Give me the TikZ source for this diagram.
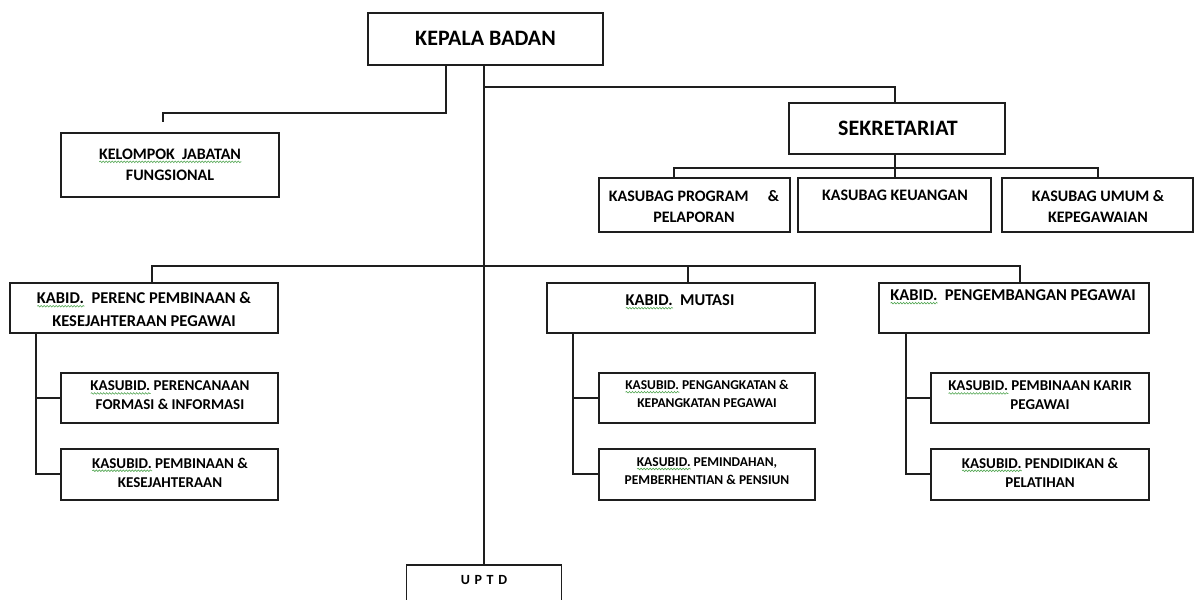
\documentclass[tikz,border=0pt]{standalone}
\usepackage{fontspec}
\setmainfont{Carlito}
\usetikzlibrary{decorations.pathmorphing}
\definecolor{sqc}{RGB}{80,165,80}
\definecolor{lnc}{RGB}{30,30,30}
\newsavebox\sqbox
\newlength\sqlen
\newcommand\sqw[1]{\sbox\sqbox{#1}\setlength\sqlen{\wd\sqbox}\rlap{\tikz[x=1pt,y=1pt,baseline=0pt]\draw[sqc,line width=0.6pt,decorate,decoration={snake,amplitude=0.8pt,segment length=3pt}] (0,-2.6) -- (\sqlen,-2.6);}\usebox\sqbox}
\begin{document}
\begin{tikzpicture}[x=1pt,y=-1pt,
  box/.style={draw=lnc,line width=1.1pt,outer sep=0pt,inner sep=0pt,rectangle},
  ln/.style={draw=lnc,line width=1.1pt},
  txt/.style={inner sep=0pt,align=center,font=\bfseries}]
\useasboundingbox (0,0) rectangle (1195,600);
\fill[white] (0,0) rectangle (1195,600);
% boxes
\node[box,minimum width=235pt,minimum height=52pt] (kb) at (485.5,39) {};
\node[box,minimum width=218pt,minimum height=64pt] (kjf) at (170,165) {};
\node[box,minimum width=216pt,minimum height=51pt] (sek) at (897,128.5) {};
\node[box,minimum width=191pt,minimum height=54pt] (sb1) at (694.5,205) {};
\node[box,minimum width=193pt,minimum height=54pt] (sb2) at (894.5,205) {};
\node[box,minimum width=191pt,minimum height=54pt] (sb3) at (1097.5,205) {};
\node[box,minimum width=268pt,minimum height=50pt] (kab1) at (144,308) {};
\node[box,minimum width=268pt,minimum height=50pt] (kab2) at (681,308) {};
\node[box,minimum width=270pt,minimum height=50pt] (kab3) at (1014,308) {};
\node[box,minimum width=217pt,minimum height=50pt] (s11) at (169.5,398) {};
\node[box,minimum width=217pt,minimum height=51pt] (s12) at (169.5,474.5) {};
\node[box,minimum width=216pt,minimum height=50pt] (s21) at (707,398) {};
\node[box,minimum width=216pt,minimum height=51pt] (s22) at (707,474.5) {};
\node[box,minimum width=218pt,minimum height=50pt] (s31) at (1040,398) {};
\node[box,minimum width=218pt,minimum height=51pt] (s32) at (1040,474.5) {};
\node[box,minimum width=155pt,minimum height=50pt] (uptd) at (484,590) {};
% texts
\node[txt,font=\bfseries\fontsize{22}{26}\selectfont] (tkb) at (485.5,38) {KEPALA BADAN};
\node[txt,font=\bfseries\fontsize{22}{26}\selectfont] (tsek) at (898,128) {SEKRETARIAT};
\node[txt,font=\bfseries\fontsize{16}{21}\selectfont] (tkjf) at (170,164.5) {\sqw{KELOMPOK\ \ JABATAN}\\FUNGSIONAL};
\node[txt,font=\bfseries\fontsize{16}{21}\selectfont] (tsb1) at (694,206.5) {KASUBAG PROGRAM\hspace{1.2em}\&\\PELAPORAN};
\node[txt,font=\bfseries\fontsize{16}{21}\selectfont] (tsb2) at (895,195) {KASUBAG KEUANGAN};
\node[txt,font=\bfseries\fontsize{16}{21}\selectfont] (tsb3) at (1098,206.5) {KASUBAG UMUM \&\\KEPEGAWAIAN};
\node[txt,font=\bfseries\fontsize{16.5}{23}\selectfont] (tkab1) at (144,309.5) {\sqw{KABID.}\ \ PERENC PEMBINAAN \&\\KESEJAHTERAAN PEGAWAI};
\node[txt,font=\bfseries\fontsize{16.5}{23}\selectfont] (tkab2) at (680,302) {\sqw{KABID.}\ \ MUTASI};
\node[txt,font=\bfseries\fontsize{16.5}{23}\selectfont] (tkab3) at (1013,297) {\sqw{KABID.}\ \ PENGEMBANGAN PEGAWAI};
\node[txt,font=\bfseries\fontsize{15}{19}\selectfont] (ts11) at (170,395.5) {\sqw{KASUBID.} PERENCANAAN\\FORMASI \& INFORMASI};
\node[txt,font=\bfseries\fontsize{15}{19}\selectfont] (ts12) at (170,472.5) {\sqw{KASUBID.} PEMBINAAN \&\\KESEJAHTERAAN};
\node[txt,font=\bfseries\fontsize{13.5}{18}\selectfont] (ts21) at (707,394) {\sqw{KASUBID.} PENGANGKATAN \&\\KEPANGKATAN PEGAWAI};
\node[txt,font=\bfseries\fontsize{13.5}{18}\selectfont] (ts22) at (707,471) {\sqw{KASUBID.} PEMINDAHAN,\\PEMBERHENTIAN \& PENSIUN};
\node[txt,font=\bfseries\fontsize{15}{19}\selectfont] (ts31) at (1040,395.5) {\sqw{KASUBID.} PEMBINAAN KARIR\\PEGAWAI};
\node[txt,font=\bfseries\fontsize{15}{19}\selectfont] (ts32) at (1040,472.5) {\sqw{KASUBID.} PENDIDIKAN \&\\PELATIHAN};
\node[txt,font=\bfseries\fontsize{14}{18}\selectfont] (tuptd) at (484,580) {U\,\,P\,\,T\,\,D};
% connector coordinates
\coordinate (fa) at (446,113);
\coordinate (fb) at (163,113);
\coordinate (fc) at (163,122);
\coordinate (ta) at (484,87);
\coordinate (tb) at (895,87);
\coordinate (sa) at (895,168);
\coordinate (sl) at (674,168);
\coordinate (sr) at (1098,168);
\coordinate (ka) at (484,266);
\coordinate (kl) at (152,266);
\coordinate (km) at (688,266);
\coordinate (kr) at (1020,266);
\coordinate (l1) at (36,398);
\coordinate (l2) at (36,474);
\coordinate (m1) at (573,398);
\coordinate (m2) at (573,474);
\coordinate (r1) at (906,398);
\coordinate (r2) at (906,474);
% connectors
\draw[ln] (kb.south -| fa) -- (fa) -- (fb) -- (fc);
\draw[ln] (uptd.north |- kb.south) -- (uptd.north);
\draw[ln] (ta) -- (tb) -- (sek.north -| tb);
\draw[ln] (sek.south -| sa) -- (sa);
\draw[ln] (sb1.north -| sl) -- (sl) -- (sr) -- (sb3.north -| sr);
\draw[ln] (sa) -- (sb2.north -| sa);
\draw[ln] (kab1.north -| kl) -- (kl) -- (kr) -- (kab3.north -| kr);
\draw[ln] (km) -- (kab2.north -| km);
\draw[ln] (kab1.south -| l1) -- (l2) -- (s12.west |- l2);
\draw[ln] (l1) -- (s11.west |- l1);
\draw[ln] (kab2.south -| m1) -- (m2) -- (s22.west |- m2);
\draw[ln] (m1) -- (s21.west |- m1);
\draw[ln] (kab3.south -| r1) -- (r2) -- (s32.west |- r2);
\draw[ln] (r1) -- (s31.west |- r1);
\end{tikzpicture}
\end{document}
